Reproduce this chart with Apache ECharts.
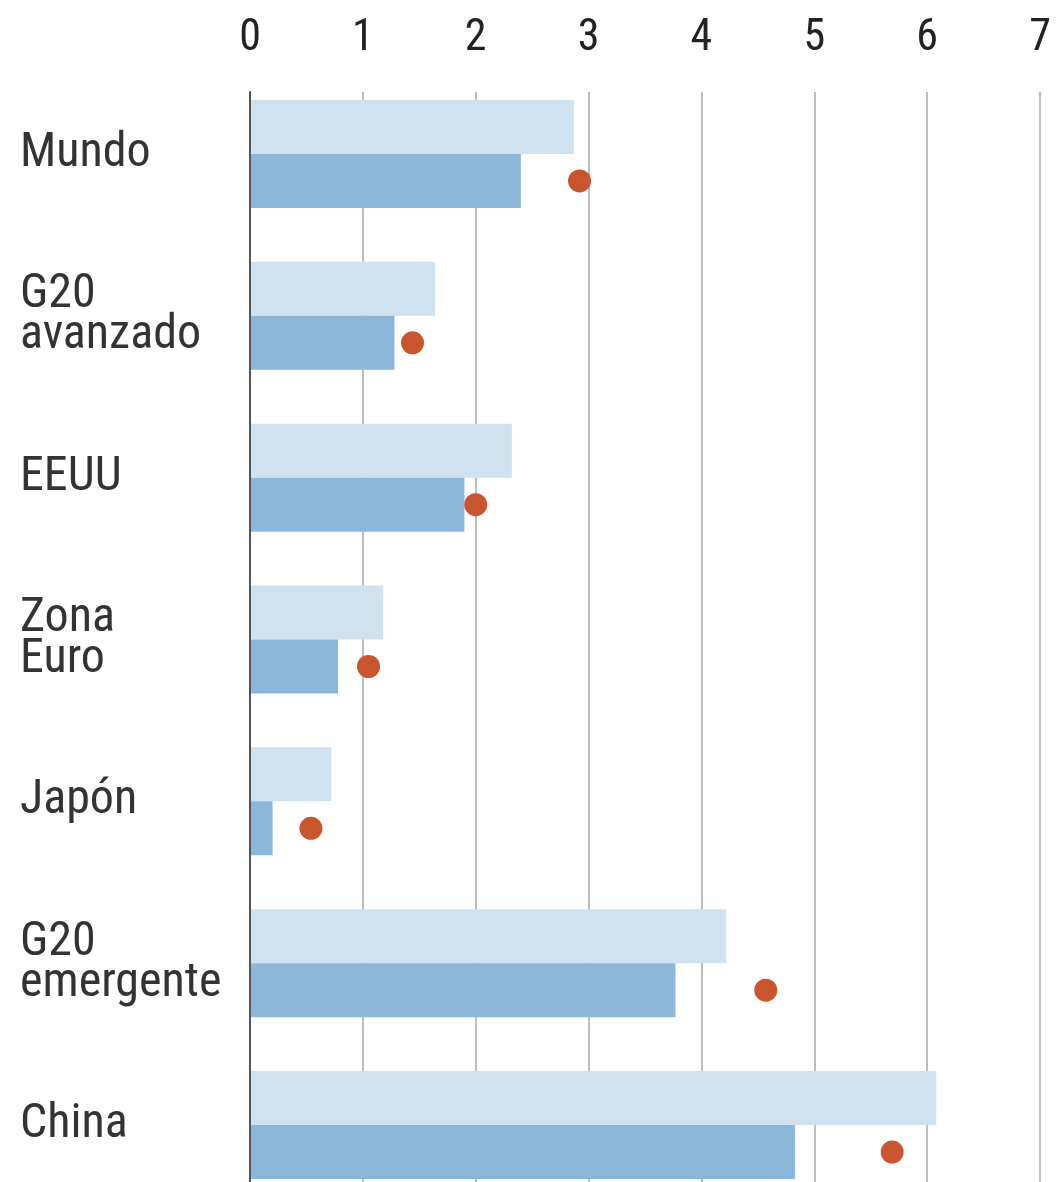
<!DOCTYPE html>
<html>
<head>
<meta charset="utf-8">
<title>Crecimiento G20</title>
<script src="https://cdn.jsdelivr.net/npm/echarts@6/dist/echarts.min.js"></script>
<style>
    html, body { margin: 0; padding: 0; background: #fff; }
    #chart { width: 1056px; height: 1182px; }
</style>
</head>
<body>
<div id="chart"></div>
<script>
//////////////////////////////////////////////////////////////////
// [ Data ]

var categories = ['Mundo', 'G20\navanzado', 'EEUU', 'Zona\nEuro', 'Japón', 'G20\nemergente', 'China'];
var lightValues = [2.87, 1.64, 2.32, 1.18, 0.72, 4.22, 6.08];
var darkValues = [2.40, 1.28, 1.90, 0.78, 0.20, 3.77, 4.83];
var dotValues = [2.92, 1.44, 2.00, 1.05, 0.54, 4.57, 5.69];
var xTicks = [0, 1, 2, 3, 4, 5, 6, 7];

//////////////////////////////////////////////////////////////////
// [ Chart ]

var font = '"Liberation Sans Narrow", "Roboto Condensed", Roboto, sans-serif';
var chart = echarts.init(document.getElementById('chart'));

var options = {
    animation: false,
    grid: [
        // bars (runs a bit past the bottom edge, as in the original)
        { left: 250, right: 16, top: 73, height: 1133, outerBoundsMode: 'none', containLabel: false },
        // gridlines + top ticks
        { left: 250, right: 16, top: 92, bottom: 0, outerBoundsMode: 'none', containLabel: false }
    ],
    xAxis: [
        {
            gridIndex: 0, type: 'value', min: xTicks[0], max: xTicks[xTicks.length - 1], interval: 1,
            axisLabel: { show: false }, splitLine: { show: false },
            axisLine: { show: false }, axisTick: { show: false }
        },
        {
            gridIndex: 1, type: 'value', position: 'top',
            min: xTicks[0], max: xTicks[xTicks.length - 1], interval: 1,
            axisLine: { show: false }, axisTick: { show: false },
            axisLabel: { fontFamily: font, fontSize: 44, color: '#222', margin: 31 },
            splitLine: { lineStyle: { color: '#a8a8a8', width: 1.5 } }
        }
    ],
    yAxis: [
        {
            gridIndex: 0, type: 'category', data: categories, inverse: true,
            axisLine: { show: false }, axisTick: { show: false },
            axisLabel: {
                fontFamily: font, fontSize: 48, lineHeight: 41, color: '#333',
                align: 'left', margin: 230
            }
        },
        {
            gridIndex: 1, type: 'value', z: 10,
            axisLabel: { show: false }, splitLine: { show: false }, axisTick: { show: false },
            axisLine: { show: true, lineStyle: { color: '#555', width: 2 } }
        }
    ],
    series: [
        {
            type: 'bar', data: lightValues, barWidth: 54, barGap: '0%',
            itemStyle: { color: '#d0e1ef' }
        },
        {
            type: 'bar', data: darkValues, barWidth: 54, barGap: '0%',
            itemStyle: { color: '#8ab7da' }
        },
        {
            type: 'scatter', data: dotValues, symbolSize: 23, symbolOffset: [0, 27], z: 5,
            itemStyle: { color: '#c9552f', opacity: 1 }
        }
    ]
};

chart.setOption(options);
</script>
</body>
</html>
